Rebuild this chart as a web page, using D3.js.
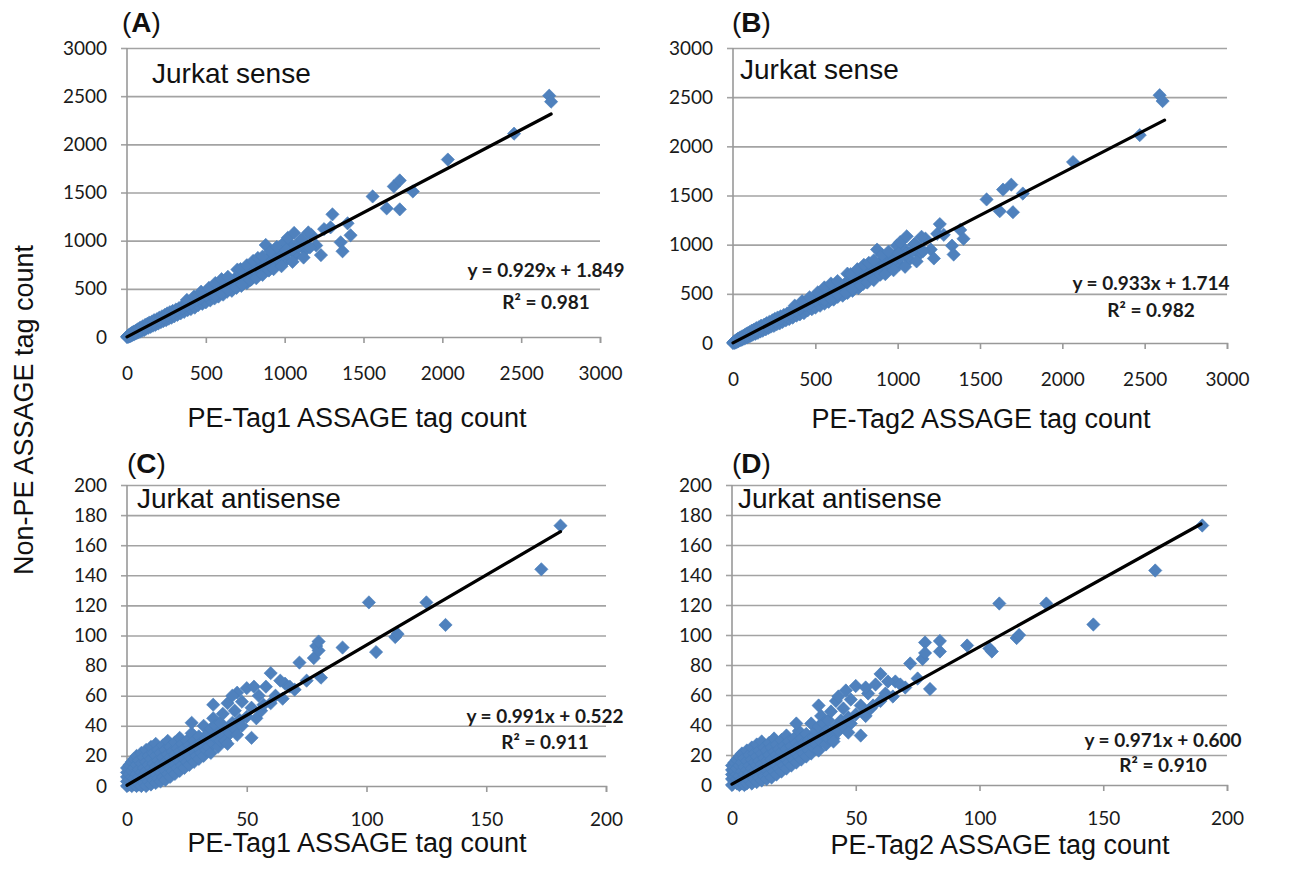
<!DOCTYPE html>
<html lang="en">
<head>
  <meta charset="UTF-8">
  <title>ASSAGE tag count correlation</title>
  <style>
    html, body { margin: 0; padding: 0; background: #fff; overflow: hidden; }
    svg { display: block; }
    .tick text { font-family: Lato, 'Liberation Sans', sans-serif; font-size: 19px; fill: #1a1a1a; }
    .title { font-family: 'Liberation Sans', Arial, sans-serif; fill: #111; }
    .eq { font-family: Lato, 'Liberation Sans', sans-serif; font-weight: bold; font-size: 19px; fill: #1a1a1a; }
  </style>
</head>
<body>
<script src="https://d3js.org/d3.v7.min.js"></script>
<script>
// ---- data ----
const senseTicks = [0, 500, 1000, 1500, 2000, 2500, 3000];
const antiXTicks = [0, 50, 100, 150, 200];
const antiYTicks = [0, 20, 40, 60, 80, 100, 120, 140, 160, 180, 200];

// (A) PE-Tag1 vs Non-PE, sense
const pointsA = [
  [0,0],[3,8],[6,2],[8,15],[12,5],[15,25],[18,10],[22,30],[25,12],[28,40],[32,20],[36,48],[40,28],[44,55],
  [48,30],[52,62],[56,38],[60,70],[65,45],[70,80],[75,50],[80,92],[85,58],[90,100],[95,65],[100,110],
  [108,72],[115,125],[120,85],[128,135],[135,95],[142,150],[150,105],[158,160],[165,118],[172,175],
  [180,125],[190,185],[198,140],[205,200],[215,155],[222,215],[230,165],[240,230],[248,175],[255,245],
  [265,190],[272,258],[282,200],[290,270],[300,215],[310,285],[320,230],[330,300],[340,245],[350,320],
  [362,260],[372,335],[385,280],[395,355],[405,290],[418,372],[430,305],[440,395],[452,330],[465,410],
  [478,345],[490,430],[500,360],[515,455],[528,380],[540,470],[555,400],[568,500],[580,420],[595,520],
  [610,440],[622,545],[635,470],[650,570],[665,480],[680,600],[695,510],[710,630],[725,530],[740,650],
  [760,560],[775,690],[790,600],[805,720],[820,640],[835,760],[850,670],[870,800],[890,700],[905,830],
  [925,740],[945,870],[965,780],[990,900],[1010,800],[1040,960],[1070,850],[1100,1000],[1130,900],
  [1170,1060],[1200,950],
  [20,18],[52,44],[83,72],[112,93],[141,124],[168,146],[202,171],[233,200],[258,222],[292,248],[318,277],
  [352,298],[381,330],[408,349],[442,383],[468,402],[503,433],[531,452],[562,486],[588,505],[622,536],
  [648,556],[683,589],[707,608],[742,641],[768,660],[803,693],[828,712],[862,745],[888,763],[922,796],
  [948,815],[983,848],[1012,868],[1052,908],[1088,936],
  [380,385],[425,420],[470,470],[520,510],[560,560],[600,600],[640,625],[700,700],[720,705],[760,745],
  [800,790],[830,820],[860,835],[880,955],[910,890],[950,935],[1000,985],[1020,1030],[1060,1080],
  [1110,1015],[1150,1085],[1250,1120],[560,430],[600,455],[640,490],[690,515],[730,545],[780,590],
  [820,610],[860,645],[900,690],[930,705],[980,735],[1050,780],[1120,825],[1230,850],[1160,930],[1010,905]
];
const outliersA = [
  [1291,1138],[1303,1273],[1355,983],[1367,890],[1399,1180],[1418,1056],[1558,1459],[1647,1335],
  [1692,1563],[1730,1625],[1730,1325],[1813,1511],[2035,1842],[2455,2111],[2678,2505],[2690,2443]
];
// (B) PE-Tag2 vs Non-PE, sense
const pointsB = [
  [0,0],[4,9],[7,2],[9,16],[13,4],[16,26],[19,9],[23,31],[26,13],[29,41],[33,19],[37,49],[41,27],[45,56],
  [49,31],[53,63],[57,37],[61,71],[66,44],[71,81],[76,51],[81,93],[86,57],[91,101],[96,66],[101,111],
  [107,73],[114,126],[121,84],[127,136],[136,94],[141,151],[151,104],[157,161],[166,117],[171,176],
  [181,126],[189,186],[199,139],[204,201],[216,154],[221,216],[231,166],[239,231],[249,174],[254,246],
  [266,191],[271,259],[283,199],[289,271],[301,214],[309,286],[321,231],[329,301],[341,244],[349,321],
  [363,259],[371,336],[386,279],[394,356],[406,291],[417,373],[431,304],[439,396],[453,331],[464,411],
  [479,344],[489,431],[501,361],[514,456],[529,379],[539,471],[556,401],[567,501],[581,419],[594,521],
  [611,441],[621,546],[636,469],[649,571],[666,481],[679,601],[696,509],[709,631],[726,531],[739,651],
  [761,559],[774,691],[791,601],[804,721],[821,639],[834,761],[851,671],[869,801],[891,699],[904,831],
  [926,741],[944,871],[966,779],[989,901],[1011,801],[1039,961],[1071,849],[1099,1001],[1131,901],
  [1169,1061],[1201,951],
  [21,17],[51,45],[82,73],[113,92],[142,123],[169,147],[201,172],[232,199],[259,223],[291,249],[319,276],
  [351,299],[382,329],[409,350],[441,384],[469,401],[502,434],[532,451],[561,487],[589,504],[621,537],
  [649,555],[682,590],[708,607],[741,642],[769,659],[802,694],[829,711],[861,746],[889,762],[921,797],
  [949,814],[982,849],[1013,867],[1051,909],[1089,935],
  [375,380],[420,425],[465,465],[515,515],[555,565],[595,605],[635,630],[695,705],[715,700],[755,750],
  [795,795],[825,815],[855,840],[875,950],[905,895],[945,930],[995,990],[1015,1025],[1055,1085],
  [1105,1010],[1145,1080],[1240,1110],[555,435],[595,450],[635,495],[685,510],[725,550],[775,585],
  [815,615],[855,640],[895,695],[925,700],[975,740],[1045,775],[1115,830],[1220,860],[1155,935],[1005,910]
];
const outliersB = [
  [1256,1209],[1280,1100],[1330,990],[1340,900],[1380,1150],[1400,1060],[1540,1460],[1620,1340],
  [1640,1560],[1690,1610],[1700,1330],[1760,1520],[2065,1840],[2470,2114],[2591,2520],[2609,2460]
];
// (C) PE-Tag1 vs Non-PE, antisense
const pointsC = [
  [0,0],[0,3],[0,6],[0,9],[0,12],[1,1],[1,4],[1,8],[1,14],[2,0],[2,3],[2,6],[2,10],[2,16],[3,1],[3,5],
  [3,12],[3,18],[4,0],[4,3],[4,8],[4,14],[4,20],[5,1],[5,6],[5,11],[5,17],[6,0],[6,4],[6,9],[6,15],
  [6,22],[7,2],[7,7],[7,12],[7,19],[8,0],[8,5],[8,10],[8,16],[8,24],[9,3],[9,8],[9,14],[9,20],[10,1],
  [10,6],[10,12],[10,18],[10,26],[11,4],[11,10],[11,15],[11,22],[12,2],[12,8],[12,13],[12,20],[12,28],
  [13,5],[13,11],[13,17],[13,24],[14,3],[14,9],[14,15],[14,22],[15,6],[15,12],[15,19],[15,27],[16,4],
  [16,10],[16,16],[16,24],[17,8],[17,14],[17,21],[17,30],[18,6],[18,12],[18,19],[18,26],[19,10],[19,17],
  [19,23],[20,8],[20,14],[20,21],[20,29],[21,12],[21,18],[21,25],[22,10],[22,16],[22,23],[22,32],[23,14],
  [23,20],[23,28],[24,12],[24,18],[24,25],[25,16],[25,22],[25,30],[26,14],[26,20],[26,27],[27,18],
  [27,25],[27,35],[28,16],[28,23],[28,30],[29,20],[29,27],[30,18],[30,25],[30,33],[31,22],[31,29],
  [32,20],[32,27],[32,40],[33,24],[33,31],[34,26],[34,35],[35,22],[35,30],[35,38],[36,28],[36,45],
  [37,32],[37,40],[38,26],[38,35],[39,30],[39,42],[40,34],[40,48],[41,30],[42,38],[42,55],[43,35],
  [44,42],[45,38],[45,50],[46,62],[47,44],[48,40],[48,56],[50,46],[50,65],[52,32],[52,52],[54,45],
  [55,60],[56,50],[58,66],[60,55],[60,75],[62,60],[65,58],[66,68],[70,64],[72,82],[75,70],[78,85],
  [79,93],[80,90],[80,96],[81,72],[36,54],[44,60],[53,66],[64,70],[68,66],[42,28],[46,34],[57,54],[27,42]
];
const outliersC = [[90,92],[104,89],[112,99],[113,101],[133,107],[101,122],[125,122],[173,144],[181,173]];
// (D) PE-Tag2 vs Non-PE, antisense
const pointsD = [
  [0,0],[0,4],[0,7],[0,10],[0,13],[1,2],[1,5],[1,9],[1,15],[2,1],[2,4],[2,7],[2,11],[2,17],[3,0],[3,6],
  [3,13],[3,19],[4,1],[4,4],[4,9],[4,15],[4,21],[5,0],[5,7],[5,12],[5,18],[6,1],[6,5],[6,10],[6,16],
  [6,23],[7,3],[7,8],[7,13],[7,20],[8,1],[8,6],[8,11],[8,17],[8,25],[9,4],[9,9],[9,15],[9,21],[10,2],
  [10,7],[10,13],[10,19],[10,27],[11,5],[11,11],[11,16],[11,23],[12,3],[12,9],[12,14],[12,21],[12,29],
  [13,6],[13,12],[13,18],[13,25],[14,4],[14,10],[14,16],[14,23],[15,7],[15,13],[15,20],[15,28],[16,5],
  [16,11],[16,17],[16,25],[17,9],[17,15],[17,22],[17,31],[18,7],[18,13],[18,20],[18,27],[19,11],[19,18],
  [19,24],[20,9],[20,15],[20,22],[20,30],[21,13],[21,19],[21,26],[22,11],[22,17],[22,24],[22,33],[23,15],
  [23,21],[23,29],[24,13],[24,19],[24,26],[25,17],[25,23],[25,31],[26,15],[26,21],[26,28],[27,19],
  [27,26],[27,36],[28,17],[28,24],[28,31],[29,21],[29,28],[30,19],[30,26],[30,34],[31,23],[31,30],
  [32,21],[32,28],[32,41],[33,25],[33,32],[34,27],[34,36],[35,23],[35,31],[35,39],[36,29],[36,46],
  [37,33],[37,41],[38,27],[38,36],[39,31],[39,43],[40,35],[40,49],[41,31],[42,39],[42,56],[43,36],
  [44,43],[45,39],[45,51],[46,63],[47,45],[48,41],[48,57],[50,47],[50,66],[52,33],[52,53],[54,46],
  [55,61],[56,51],[58,67],[60,56],[60,74],[62,61],[65,59],[66,69],[70,65],[72,81],[75,71],[77,84],
  [78,95],[78,88],[80,64],[35,53],[43,59],[54,65],[63,69],[68,67],[41,29],[47,35],[57,53],[26,41]
];
const outliersD = [[84,89],[84,96],[95,93],[104,91],[105,89],[115,98],[116,100],[108,121],[127,121],[146,107],[171,143],[190,173]];

// trend lines as drawn (start / end, data units)
const trendA = [[0, 2], [2690, 2315]];
const trendB = [[0, 2], [2621, 2266]];
const trendC = [[0, 0.5], [181, 169]];
const trendD = [[0, 0.6], [189.5, 174]];

const labels = ["A", "B", "C", "D"];
const insetText = ["Jurkat sense", "Jurkat sense", "Jurkat antisense", "Jurkat antisense"];
const equations = ["y = 0.929x + 1.849", "y = 0.933x + 1.714", "y = 0.991x + 0.522", "y = 0.971x + 0.600"];
const r2s = ["R² = 0.981", "R² = 0.982", "R² = 0.911", "R² = 0.910"];
const xTitles = ["PE-Tag1 ASSAGE tag count", "PE-Tag2 ASSAGE tag count", "PE-Tag1 ASSAGE tag count", "PE-Tag2 ASSAGE tag count"];
const yTitle = "Non-PE ASSAGE tag count";

// ---- layout ----
const panels = [
  { pts: pointsA.concat(outliersA), trend: trendA, max: 3000, xt: senseTicks, yt: senseTicks,
    left: 127, right: 600, top: 48, bottom: 337, pad: 24,
    lab: [122, 32], inset: [152, 83], eq: [546, 277, 309], xTitle: [357, 427] },
  { pts: pointsB.concat(outliersB), trend: trendB, max: 3000, xt: senseTicks, yt: senseTicks,
    left: 733, right: 1227, top: 48, bottom: 343, pad: 24,
    lab: [732, 32], inset: [740, 79], eq: [1151, 290, 317], xTitle: [981, 428] },
  { pts: pointsC.concat(outliersC), trend: trendC, max: 200, xt: antiXTicks, yt: antiYTicks,
    left: 127, right: 606, top: 485, bottom: 786, pad: 21,
    lab: [127, 473], inset: [137, 508], eq: [545, 723, 749], xTitle: [357, 852] },
  { pts: pointsD.concat(outliersD), trend: trendD, max: 200, xt: antiXTicks, yt: antiYTicks,
    left: 732, right: 1227, top: 485, bottom: 785, pad: 21,
    lab: [732, 473], inset: [738, 508], eq: [1163, 747, 772], xTitle: [1000, 854] }
];

const svg = d3.select("body").append("svg").attr("width", 1300).attr("height", 875);
const diamond = d3.symbol().type(d3.symbolSquare).size(88);
const fmt = d3.format("d");

panels.forEach((p, i) => {
  const x = d3.scaleLinear().domain([0, p.max]).range([p.left, p.right]);
  const y = d3.scaleLinear().domain([0, p.max]).range([p.bottom, p.top]);
  const g = svg.append("g");
  const w = p.right - p.left;

  // gridlines
  g.append("g").attr("transform", `translate(${p.left},0)`)
    .call(d3.axisLeft(y).tickValues(p.yt.slice(1)).tickSize(-w).tickFormat(""))
    .call(a => a.select(".domain").remove())
    .selectAll("line").attr("stroke", "#a3a3a3").attr("stroke-width", 1.6);

  // y axis labels + short outer ticks
  g.append("g").attr("transform", `translate(${p.left},0)`)
    .call(d3.axisLeft(y).tickValues(p.yt).tickFormat(fmt).tickSize(6).tickPadding(14))
    .call(a => a.select(".domain").remove())
    .call(a => a.selectAll("line").attr("stroke", "#a3a3a3").attr("stroke-width", 1.6))
    .call(a => a.selectAll("text").attr("font-family", null).attr("font-size", null));

  // x axis
  g.append("g").attr("transform", `translate(0,${p.bottom})`)
    .call(d3.axisBottom(x).tickValues(p.xt).tickFormat(fmt).tickSize(6).tickPadding(p.pad))
    .call(a => a.select(".domain").attr("stroke", "#999").attr("stroke-width", 1.6))
    .call(a => a.selectAll("line").attr("stroke", "#999").attr("stroke-width", 1.6))
    .call(a => a.selectAll("text").attr("font-family", null).attr("font-size", null));

  // y axis line
  g.append("line").attr("x1", p.left).attr("x2", p.left).attr("y1", p.top).attr("y2", p.bottom)
    .attr("stroke", "#999").attr("stroke-width", 1.6);

  // points
  g.append("g").selectAll("path").data(p.pts).enter().append("path")
    .attr("d", diamond)
    .attr("transform", d => `translate(${x(d[0])},${y(d[1])}) rotate(45)`)
    .attr("fill", "#4f81bd").attr("stroke", "#4a7ebb").attr("stroke-width", 0.6);

  // trend line
  g.append("line")
    .attr("x1", x(p.trend[0][0])).attr("y1", y(p.trend[0][1]))
    .attr("x2", x(p.trend[1][0])).attr("y2", y(p.trend[1][1]))
    .attr("stroke", "#000").attr("stroke-width", 3.2).attr("stroke-linecap", "round");

  // texts
  const lab = g.append("text").attr("class", "title").attr("x", p.lab[0]).attr("y", p.lab[1]).attr("font-size", 28);
  lab.append("tspan").text("(");
  lab.append("tspan").attr("font-weight", "bold").text(labels[i]);
  lab.append("tspan").text(")");

  g.append("text").attr("class", "title").attr("x", p.inset[0]).attr("y", p.inset[1])
    .attr("font-size", 28).text(insetText[i]);

  g.append("text").attr("class", "eq").attr("x", p.eq[0]).attr("y", p.eq[1])
    .attr("text-anchor", "middle").text(equations[i]);
  g.append("text").attr("class", "eq").attr("x", p.eq[0]).attr("y", p.eq[2])
    .attr("text-anchor", "middle").text(r2s[i]);

  g.append("text").attr("class", "title").attr("x", p.xTitle[0]).attr("y", p.xTitle[1])
    .attr("text-anchor", "middle").attr("font-size", 27).text(xTitles[i]);
});

svg.append("text").attr("class", "title")
  .attr("transform", "translate(33,410) rotate(-90)")
  .attr("text-anchor", "middle").attr("font-size", 27).text(yTitle);
</script>
</body>
</html>
